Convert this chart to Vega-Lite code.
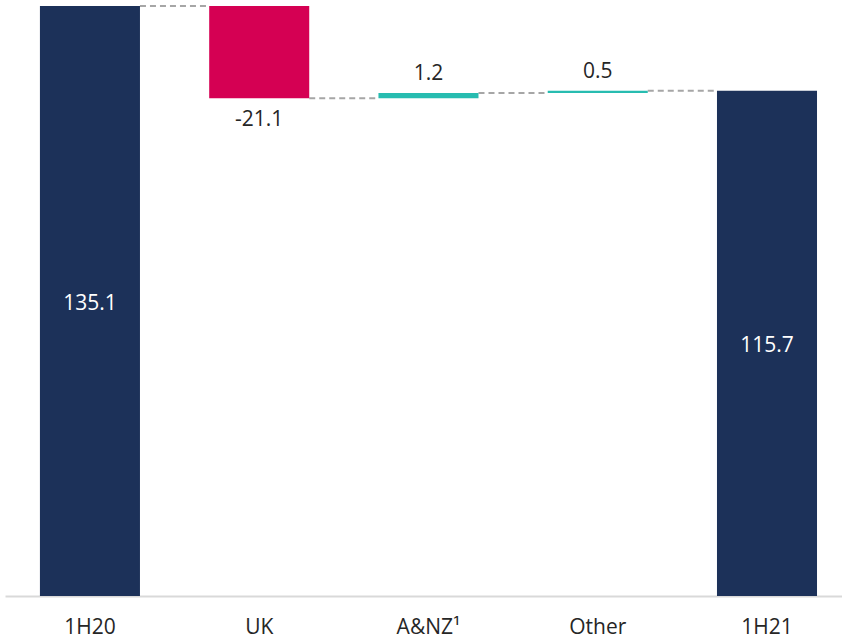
{
  "$schema": "https://vega.github.io/schema/vega-lite/v6.json",
  "width": 837,
  "height": 590,
  "autosize": {"type": "none"},
  "padding": {"left": 5, "top": 6, "right": 0, "bottom": 42},
  "background": "white",
  "config": {"view": {"stroke": null}, "font": "Open Sans"},
  "datasets": {
    "bars": [
      {"cat": "1H20", "start": 0, "end": 135.1, "label": "135.1", "type": "total"},
      {"cat": "UK", "start": 135.1, "end": 114.0, "label": "-21.1", "type": "down"},
      {"cat": "A&NZ¹", "start": 114.0, "end": 115.2, "label": "1.2", "type": "up"},
      {"cat": "Other", "start": 115.2, "end": 115.7, "label": "0.5", "type": "up"},
      {"cat": "1H21", "start": 0, "end": 115.7, "label": "115.7", "type": "total"}
    ],
    "links": [
      {"from": "1H20", "to": "UK", "level": 135.1},
      {"from": "UK", "to": "A&NZ¹", "level": 114.0},
      {"from": "A&NZ¹", "to": "Other", "level": 115.2},
      {"from": "Other", "to": "1H21", "level": 115.7}
    ]
  },
  "layer": [
    {
      "data": {"name": "links"},
      "mark": {"type": "rule", "color": "#A6A6A6", "strokeWidth": 2, "strokeDash": [6, 4]},
      "encoding": {
        "x": {"field": "from", "type": "nominal", "bandPosition": 1},
        "x2": {"field": "to", "bandPosition": 0},
        "y": {"field": "level", "type": "quantitative"}
      }
    },
    {
      "data": {"name": "bars"},
      "layer": [
        {
          "mark": {"type": "bar"},
          "encoding": {
            "y": {"field": "start", "type": "quantitative"},
            "y2": {"field": "end"},
            "color": {
              "field": "type",
              "type": "nominal",
              "scale": {"domain": ["total", "down", "up"], "range": ["#1C3159", "#D50053", "#27BCB0"]},
              "legend": null
            }
          }
        },
        {
          "transform": [
            {"filter": "datum.type === 'total'"},
            {"calculate": "(datum.start + datum.end) / 2", "as": "mid"}
          ],
          "mark": {"type": "text", "color": "white", "fontSize": 21, "baseline": "middle", "dy": 3},
          "encoding": {
            "y": {"field": "mid", "type": "quantitative"},
            "text": {"field": "label"}
          }
        },
        {
          "transform": [{"filter": "datum.type === 'up'"}],
          "mark": {"type": "text", "color": "#262626", "fontSize": 21, "baseline": "alphabetic", "dy": -13},
          "encoding": {
            "y": {"field": "end", "type": "quantitative"},
            "text": {"field": "label"}
          }
        },
        {
          "transform": [{"filter": "datum.type === 'down'"}],
          "mark": {"type": "text", "color": "#262626", "fontSize": 21, "baseline": "alphabetic", "dy": 28},
          "encoding": {
            "y": {"field": "end", "type": "quantitative"},
            "text": {"field": "label"}
          }
        }
      ],
      "encoding": {
        "x": {"field": "cat", "type": "nominal"}
      }
    }
  ],
  "encoding": {
    "x": {
      "field": "cat",
      "type": "nominal",
      "title": null,
      "scale": {"domain": ["1H20", "UK", "A&NZ¹", "Other", "1H21"], "paddingInner": 0.409, "paddingOuter": 0.177, "align": 0.583},
      "axis": {"labelAngle": 0, "labelFontSize": 21, "labelColor": "#262626", "labelFont": "Open Sans", "ticks": false, "domainColor": "#D9D9D9", "domainWidth": 2, "labelPadding": 20, "grid": false}
    },
    "y": {
      "type": "quantitative",
      "scale": {"domain": [0, 135.1], "nice": false, "zero": true},
      "axis": null
    }
  }
}
